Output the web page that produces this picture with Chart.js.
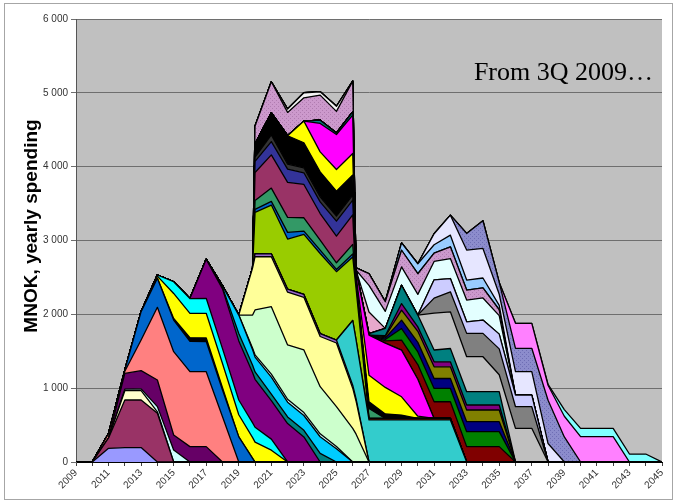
<!DOCTYPE html>
<html>
<head>
<meta charset="utf-8">
<script src="https://cdn.jsdelivr.net/npm/chart.js@4.4.0/dist/chart.umd.min.js"></script>
<style>
  html, body { margin: 0; padding: 0; background: #ffffff; }
  #wrap { width: 677px; height: 504px; position: relative; }
</style>
</head>
<body>
<div id="wrap"><canvas id="c" width="677" height="504"></canvas></div>
<script>
// Time points (years; a few extra points mark the quick ramps around 2020 and 2026)
const years = [2009, 2010, 2011, 2012, 2013, 2014, 2015, 2016, 2017, 2018, 2019, 2019.85,
  2020, 2021, 2022, 2023, 2024, 2025, 2026, 2026.2, 2027, 2028, 2029, 2030, 2031, 2032,
  2033, 2034, 2035, 2036, 2037, 2038, 2039, 2040, 2041, 2042, 2043, 2044, 2045];

const yTickValues = [0, 1000, 2000, 3000, 4000, 5000, 6000];
const xTickLabels = [2009, 2011, 2013, 2015, 2017, 2019, 2021, 2023, 2025, 2027, 2029,
  2031, 2033, 2035, 2037, 2039, 2041, 2043, 2045];

// Place a project's yearly spending (MNOK) on the time points, starting at `start`
function from(start, vals) {
  const out = years.map(() => 0);
  const i0 = years.indexOf(start);
  vals.forEach((v, k) => { out[i0 + k] = v; });
  return out;
}

// Project spending profiles, bottom of the stack first
const lavender   = from(2010, [0, 185, 195, 195, 0]);
const maroon     = from(2010, [0, 140, 645, 645, 660, 0]);
const paleYellow = from(2011, [0, 126, 126, 20, 0]);
const paleCyan   = from(2011, [0, 20, 25, 70, 162, 0]);
const purpleA    = from(2011, [0, 214, 246, 360, 204, 208, 208, 0]);
const salmon     = from(2010, [0, 60, 30, 415, 985, 1128, 1015, 1015, 614, 0]);
const blueA      = from(2011, [0, 15, 384, 393, 429, 410, 407, 361, 340, 50, 0]);
const blackA     = from(2014, [0, 20, 50, 50, 30, 0]);
const yellowA    = from(2013, [0, 30, 340, 330, 334, 330, 300, 280, 270, 160, 0]);
const cyanA      = from(2013, [0, 15, 158, 200, 203, 200, 200, 200, 200, 150, 0]);
const purpleB    = from(2016, [0, 528, 810, 800, 680, 650, 520, 520, 340, 0]);
const tealA      = from(2017, [0, 20, 100, 100, 100, 90, 90, 90, 117, 0]);
const skyBlue    = from(2017, [0, 20, 250, 210, 200, 230, 200, 200, 225, 180, 0]);
const iceBlue    = from(2019, [0, 20, 30, 40, 40, 40, 40, 30, 0]);
const mint       = from(2019, [0, 450, 609, 914, 735, 847, 638, 539, 456, 380, 0]);
const cream      = from(2019, [0, 640, 722, 676, 715, 713, 680, 863, 544, 450, 0]);
const lilac      = from(2019.85, [0, 40, 40, 40, 40, 40, 40, 40, 30, 0]);
const turquoise  = from(2025, [0, 877, 800, 570, 570, 570, 570, 570, 570, 0]);
const rust       = from(2026.2, [0, 20, 20, 20, 20, 20, 20, 0]);
const lime       = from(2019.85, [0, 560, 660, 680, 813, 1084, 926, 860, 700, 0]);
const navyA      = from(2019.85, [0, 40, 50, 90, 45, 45, 30, 40, 0]);
const seaGreen   = from(2019.85, [0, 120, 180, 203, 180, 135, 90, 130, 30, 135, 0]);
const plum       = from(2019.85, [0, 380, 450, 474, 451, 361, 361, 400, 40, 0]);
const indigo     = from(2019.85, [0, 150, 180, 180, 158, 158, 203, 200, 20, 0]);
const charcoal   = from(2019.85, [0, 60, 90, 68, 68, 68, 68, 68, 10, 0]);
const blackB     = from(2019.85, [0, 180, 300, 384, 339, 339, 339, 271, 30, 90, 60, 45, 0]);
const yellowB    = from(2022, [0, 293, 271, 293, 293, 40, 361, 360, 248, 30, 0]);
const magenta    = from(2023, [0, 384, 474, 519, 60, 542, 600, 632, 500, 0]);
const tealThin   = from(2023, [0, 45, 20, 45, 10, 0]);
const darkRed    = from(2027, [0, 30, 135, 200, 226, 226, 208, 208, 208, 0]);
const green      = from(2027, [0, 20, 158, 170, 180, 180, 203, 203, 203, 0]);
const navyB      = from(2027, [0, 20, 113, 130, 135, 135, 135, 135, 135, 0]);
const olive      = from(2027, [0, 20, 135, 150, 158, 158, 158, 158, 158, 0]);
const purpleC    = from(2027, [0, 10, 90, 60, 68, 68, 68, 68, 68, 0]);
const tealB      = from(2026.2, [0, 20, 100, 248, 160, 160, 180, 180, 180, 180, 0]);
const silver     = from(2030, [0, 500, 497, 474, 474, 230, 456, 456, 0]);
const gray       = from(2030, [0, 203, 271, 316, 316, 350, 293, 293, 0]);
const periwinkle = from(2030, [0, 248, 180, 157, 180, 200, 158, 158, 0]);
const blush      = from(2026.2, [0, 293, 0]);
const frost      = from(2026.2, [0, 361, 230, 248, 280, 248, 271, 294, 300, 250, 0]);
const mauve      = from(2019.85, [0, 240, 420, 316, 316, 339, 293, 415, 30, 158, 130, 226, 280,
                                  113, 158, 136, 135, 80, 0]);
const snow       = from(2021, [0, 45, 68, 45, 68, 0]);
const lightBlue  = from(2028, [0, 99, 135, 113, 158, 135, 135, 60, 0]);
const paleLav    = from(2030, [0, 150, 271, 406, 400, 150, 316, 316, 250, 0]);
const slate      = from(2032, [0, 226, 376, 160, 317, 317, 587, 340, 0]);
const pink       = from(2035, [0, 338, 338, 203, 280, 343, 343, 343, 0]);
const aqua       = from(2037, [0, 10, 90, 113, 113, 113, 108, 108, 0]);

const canvas = document.getElementById('c');
const ctx = canvas.getContext('2d');

// Small repeating texture for the patterned areas
function texture(base, ink) {
  const t = document.createElement('canvas');
  t.width = 4; t.height = 4;
  const g = t.getContext('2d');
  g.fillStyle = base; g.fillRect(0, 0, 4, 4);
  g.fillStyle = ink;
  g.fillRect(0, 0, 1, 1); g.fillRect(2, 2, 1, 1);
  return ctx.createPattern(t, 'repeat');
}

const layers = [
  ['lavender', lavender, '#9999FF'],
  ['maroon', maroon, '#993366'],
  ['paleYellow', paleYellow, '#FFFFCC'],
  ['paleCyan', paleCyan, '#CCFFFF'],
  ['purpleA', purpleA, '#660066'],
  ['salmon', salmon, '#FF8080'],
  ['blueA', blueA, '#0066CC'],
  ['blackA', blackA, '#000000'],
  ['yellowA', yellowA, '#FFFF00'],
  ['cyanA', cyanA, '#00FFFF'],
  ['purpleB', purpleB, '#800080'],
  ['tealA', tealA, '#008080'],
  ['skyBlue', skyBlue, '#00CCFF'],
  ['iceBlue', iceBlue, '#CCFFFF'],
  ['mint', mint, '#CCFFCC'],
  ['cream', cream, '#FFFF99'],
  ['lilac', lilac, '#9966CC'],
  ['turquoise', turquoise, '#33CCCC'],
  ['rust', rust, '#993300'],
  ['lime', lime, '#99CC00'],
  ['navyA', navyA, '#0066CC'],
  ['seaGreen', seaGreen, '#339966'],
  ['plum', plum, '#993366'],
  ['indigo', indigo, '#333399'],
  ['charcoal', charcoal, '#333333'],
  ['blackB', blackB, '#000000'],
  ['yellowB', yellowB, '#FFFF00'],
  ['magenta', magenta, '#FF00FF'],
  ['tealThin', tealThin, '#008080'],
  ['darkRed', darkRed, '#800000'],
  ['green', green, '#008000'],
  ['navyB', navyB, '#000080'],
  ['olive', olive, '#808000'],
  ['purpleC', purpleC, '#800080'],
  ['tealB', tealB, '#008080'],
  ['silver', silver, '#C0C0C0'],
  ['gray', gray, '#808080'],
  ['periwinkle', periwinkle, '#CCCCFF'],
  ['blush', blush, '#E6A8CC'],
  ['frost', frost, '#E3FFFF'],
  ['mauve', mauve, texture('#CC99CC', '#B07CB0')],
  ['snow', snow, '#F4F4F4'],
  ['lightBlue', lightBlue, '#99CCFF'],
  ['paleLav', paleLav, '#E6E6FF'],
  ['slate', slate, texture('#8C8CCC', '#6E6EB4')],
  ['pink', pink, '#FF80FF'],
  ['aqua', aqua, '#80FFFF']
];

const datasets = layers.map(([name, values, fillStyle], i) => ({
  label: name,
  data: values.map((v, k) => ({ x: years[k], y: v })),
  backgroundColor: fillStyle,
  borderColor: '#000000',
  borderWidth: 1.3,
  pointRadius: 0,
  pointHoverRadius: 0,
  tension: 0,
  fill: i === 0 ? 'origin' : '-1'
}));

function spaced(v) {
  return String(v).replace(/\B(?=(\d{3})+(?!\d))/g, ' ');
}

// Grey plot area behind the series
const plotBackground = {
  id: 'plotBackground',
  beforeDraw(chart) {
    const a = chart.chartArea;
    const c = chart.ctx;
    c.save();
    c.fillStyle = '#C0C0C0';
    c.fillRect(a.left, a.top, a.right - a.left, a.bottom - a.top);
    c.restore();
  }
};

// Axis title, caption and outer frame
const annotations = {
  id: 'annotations',
  afterDraw(chart) {
    const c = chart.ctx;
    c.save();
    c.fillStyle = '#000000';
    c.font = 'bold 19px "Liberation Sans", Arial, sans-serif';
    c.translate(37, 226);
    c.rotate(-Math.PI / 2);
    c.textAlign = 'center';
    c.textBaseline = 'alphabetic';
    c.fillText('MNOK, yearly spending', 0, 0);
    c.restore();

    c.save();
    c.fillStyle = '#000000';
    c.font = '26px "Liberation Serif", "Times New Roman", serif';
    c.textAlign = 'right';
    c.textBaseline = 'alphabetic';
    c.fillText('From 3Q 2009\u2026', 653, 80);
    c.restore();

    c.save();
    c.strokeStyle = '#A6A6A6';
    c.lineWidth = 1;
    c.strokeRect(4.5, 3.5, 668, 496);
    c.restore();
  }
};

new Chart(ctx, {
  type: 'line',
  data: { datasets },
  options: {
    responsive: false,
    animation: false,
    devicePixelRatio: 1,
    layout: { padding: { left: 0, right: 15, top: 19, bottom: 0 } },
    plugins: { legend: { display: false }, tooltip: { enabled: false } },
    elements: { line: { borderJoinStyle: 'round' } },
    scales: {
      x: {
        type: 'linear',
        min: 2009,
        max: 2045,
        ticks: {
          stepSize: 1,
          autoSkip: false,
          minRotation: 45,
          maxRotation: 45,
          padding: 1,
          color: '#333333',
          font: { family: '"Liberation Sans", Arial, sans-serif', size: 10 },
          callback: (v) => (xTickLabels.includes(v) ? String(v) : '')
        },
        grid: { drawOnChartArea: false, drawTicks: true, tickLength: 4, color: '#404040' },
        border: { color: '#000000', width: 1 },
        afterFit: (s) => { s.height = 42; }
      },
      y: {
        stacked: true,
        min: 0,
        max: 6000,
        afterBuildTicks: (s) => { s.ticks = yTickValues.map((v) => ({ value: v })); },
        ticks: {
          padding: 3,
          color: '#333333',
          font: { family: '"Liberation Sans", Arial, sans-serif', size: 10 },
          callback: (v) => spaced(v)
        },
        grid: { color: '#6E6E6E', lineWidth: 1, tickLength: 5, drawTicks: true },
        border: { color: '#555555', width: 1 },
        afterFit: (s) => { s.width = 76; }
      }
    }
  },
  plugins: [plotBackground, annotations]
});
</script>
</body>
</html>
